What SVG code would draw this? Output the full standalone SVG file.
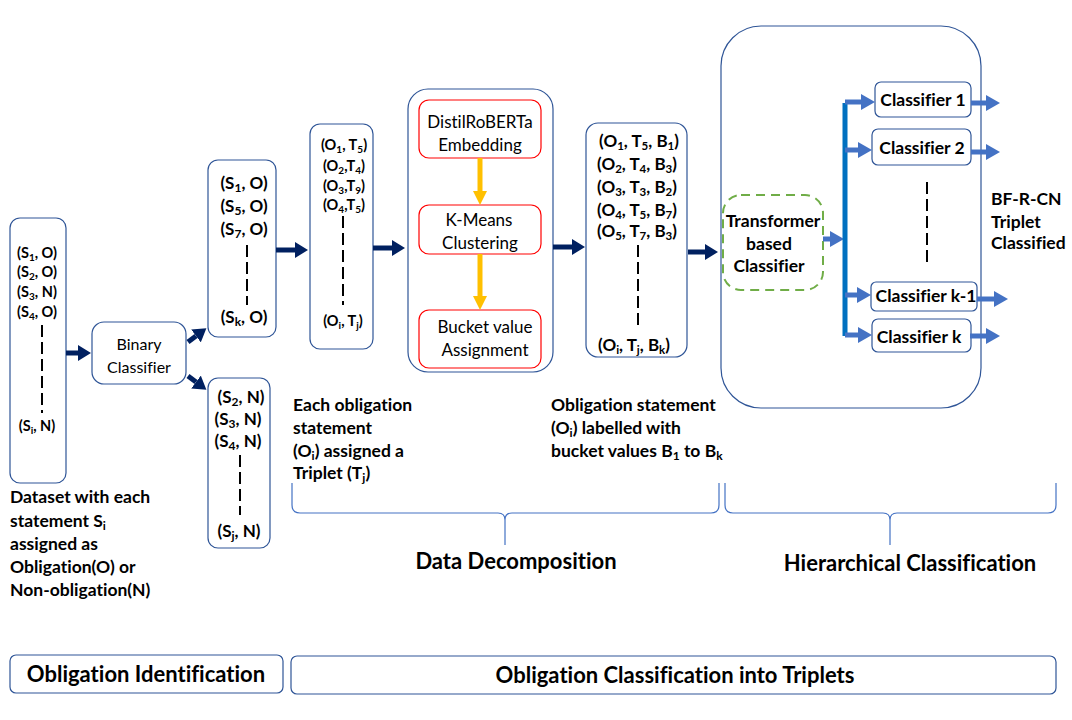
<svg xmlns="http://www.w3.org/2000/svg" width="1072" height="720" viewBox="0 0 1072 720">
<style>
.box{fill:#fff;stroke:#2F5597;stroke-width:1.2}
.red{fill:#fff;stroke:#FF0000;stroke-width:1.2}
.t{font-family:Lato,"Open Sans","Liberation Sans",sans-serif;fill:#000;font-variant-ligatures:none;font-feature-settings:"liga" 0,"dlig" 0}
.b{font-weight:bold}
.dash{stroke:#000;stroke-width:2;stroke-dasharray:12 5}
.nav{stroke:#002060;stroke-width:5;fill:none}
.blu{stroke:#4472C4;stroke-width:5;fill:none}
.org{stroke:#FFC000;stroke-width:5;fill:none}
.brace{stroke:#4472C4;stroke-width:1.2;fill:none}
</style>
<defs>
<marker id="hn" markerUnits="userSpaceOnUse" markerWidth="13" markerHeight="16" viewBox="0 0 13 16" refX="0" refY="8" orient="auto"><path d="M0,0 L13,8 L0,16 z" fill="#002060"/></marker>
<marker id="hb" markerUnits="userSpaceOnUse" markerWidth="14" markerHeight="16" viewBox="0 0 14 16" refX="0" refY="8" orient="auto"><path d="M0,0 L14,8 L0,16 z" fill="#4472C4"/></marker>
<marker id="ho" markerUnits="userSpaceOnUse" markerWidth="16" markerHeight="14" viewBox="0 0 16 14" refX="0" refY="7" orient="auto"><path d="M0,0 L14,7 L0,14 z" fill="#FFC000"/></marker>
</defs>

<g id="hier-container"><rect class="box" x="721" y="26" width="260" height="382" rx="40"/></g>
<g id="decomp-container"><rect class="box" x="408" y="89" width="145" height="283" rx="20"/></g>

<g id="dataset">
<rect class="box" x="10" y="218" width="56" height="265" rx="10"/>
<g class="t b" font-size="14.5" text-anchor="middle">
<text x="37" y="258">(S<tspan font-size="10" dy="3">1</tspan><tspan dy="-3">, O)</tspan></text>
<text x="37" y="277">(S<tspan font-size="10" dy="3">2</tspan><tspan dy="-3">, O)</tspan></text>
<text x="37" y="297">(S<tspan font-size="10" dy="3">3</tspan><tspan dy="-3">, N)</tspan></text>
<text x="37" y="317">(S<tspan font-size="10" dy="3">4</tspan><tspan dy="-3">, O)</tspan></text>
<text x="37" y="431">(S<tspan font-size="10" dy="3">i</tspan><tspan dy="-3">,  N)</tspan></text>
</g>
<line class="dash" x1="42" y1="325" x2="42" y2="413"/>
</g>

<g id="binary-classifier">
<rect class="box" x="92" y="322" width="94" height="62" rx="12"/>
<text class="t" font-size="16" text-anchor="middle" x="139" y="350">Binary</text>
<text class="t" font-size="16" text-anchor="middle" x="139" y="373">Classifier</text>
</g>

<g id="obligations">
<rect class="box" x="208" y="160" width="68" height="177" rx="10"/>
<g class="t b" font-size="17" text-anchor="middle">
<text x="244" y="189">(S<tspan font-size="12" dy="3">1</tspan><tspan dy="-3">, O)</tspan></text>
<text x="244" y="212">(S<tspan font-size="12" dy="3">5</tspan><tspan dy="-3">, O)</tspan></text>
<text x="244" y="235">(S<tspan font-size="12" dy="3">7</tspan><tspan dy="-3">, O)</tspan></text>
<text x="244" y="323">(S<tspan font-size="12" dy="3">k</tspan><tspan dy="-3">, O)</tspan></text>
</g>
<line class="dash" x1="247" y1="245" x2="247" y2="305"/>
</g>

<g id="non-obligations">
<rect class="box" x="208" y="378" width="62" height="170" rx="10"/>
<g class="t b" font-size="17" text-anchor="middle">
<text x="241" y="403">(S<tspan font-size="12" dy="3">2</tspan><tspan dy="-3">, N)</tspan></text>
<text x="238" y="425">(S<tspan font-size="12" dy="3">3</tspan><tspan dy="-3">, N)</tspan></text>
<text x="238" y="447">(S<tspan font-size="12" dy="3">4</tspan><tspan dy="-3">, N)</tspan></text>
<text x="239" y="537">(S<tspan font-size="12" dy="3">j</tspan><tspan dy="-3">, N)</tspan></text>
</g>
<line class="dash" x1="240" y1="455" x2="240" y2="515"/>
</g>

<g id="triplets">
<rect class="box" x="310" y="124" width="63" height="225" rx="10"/>
<g class="t b" font-size="14.5" text-anchor="middle">
<text x="344" y="150">(O<tspan font-size="10" dy="3">1</tspan><tspan dy="-3">, T</tspan><tspan font-size="10" dy="3">5</tspan><tspan dy="-3">)</tspan></text>
<text x="344" y="171">(O<tspan font-size="10" dy="3">2</tspan><tspan dy="-3">,T</tspan><tspan font-size="10" dy="3">4</tspan><tspan dy="-3">)</tspan></text>
<text x="344" y="191">(O<tspan font-size="10" dy="3">3</tspan><tspan dy="-3">,T</tspan><tspan font-size="10" dy="3">9</tspan><tspan dy="-3">)</tspan></text>
<text x="344" y="210">(O<tspan font-size="10" dy="3">4</tspan><tspan dy="-3">,T</tspan><tspan font-size="10" dy="3">5</tspan><tspan dy="-3">)</tspan></text>
<text x="343" y="326">(O<tspan font-size="10" dy="3">i</tspan><tspan dy="-3">, T</tspan><tspan font-size="10" dy="3">j</tspan><tspan dy="-3">)</tspan></text>
</g>
<line class="dash" x1="343" y1="216" x2="343" y2="305"/>
</g>

<g id="distilroberta">
<rect class="red" x="419" y="100" width="122" height="58" rx="10"/>
<text class="t" font-size="17" text-anchor="middle" x="480" y="128">DistilRoBERTa</text>
<text class="t" font-size="17" text-anchor="middle" x="480" y="151">Embedding</text>
</g>
<g id="kmeans">
<rect class="red" x="419" y="205" width="122" height="49" rx="10"/>
<text class="t" font-size="17" text-anchor="middle" x="479" y="226">K-Means</text>
<text class="t" font-size="17" text-anchor="middle" x="480" y="249">Clustering</text>
</g>
<g id="bucket">
<rect class="red" x="419" y="310" width="122" height="58" rx="10"/>
<text class="t" font-size="17" text-anchor="middle" x="485" y="333">Bucket value</text>
<text class="t" font-size="17" text-anchor="middle" x="485" y="356">Assignment</text>
</g>

<g id="buckets">
<rect class="box" x="586" y="123" width="101" height="234" rx="12"/>
<g class="t b" font-size="17" text-anchor="middle">
<text x="639" y="147">(O<tspan font-size="11.5" dy="3">1</tspan><tspan dy="-3">, T</tspan><tspan font-size="11.5" dy="3">5</tspan><tspan dy="-3">, B</tspan><tspan font-size="11.5" dy="3">1</tspan><tspan dy="-3">)</tspan></text>
<text x="637" y="170">(O<tspan font-size="11.5" dy="3">2</tspan><tspan dy="-3">, T</tspan><tspan font-size="11.5" dy="3">4</tspan><tspan dy="-3">, B</tspan><tspan font-size="11.5" dy="3">3</tspan><tspan dy="-3">)</tspan></text>
<text x="637" y="193">(O<tspan font-size="11.5" dy="3">3</tspan><tspan dy="-3">, T</tspan><tspan font-size="11.5" dy="3">3</tspan><tspan dy="-3">, B</tspan><tspan font-size="11.5" dy="3">2</tspan><tspan dy="-3">)</tspan></text>
<text x="637" y="216">(O<tspan font-size="11.5" dy="3">4</tspan><tspan dy="-3">, T</tspan><tspan font-size="11.5" dy="3">5</tspan><tspan dy="-3">, B</tspan><tspan font-size="11.5" dy="3">7</tspan><tspan dy="-3">)</tspan></text>
<text x="637" y="237">(O<tspan font-size="11.5" dy="3">5</tspan><tspan dy="-3">, T</tspan><tspan font-size="11.5" dy="3">7</tspan><tspan dy="-3">, B</tspan><tspan font-size="11.5" dy="3">3</tspan><tspan dy="-3">)</tspan></text>
<text x="634" y="351">(O<tspan font-size="11.5" dy="3">i</tspan><tspan dy="-3">, T</tspan><tspan font-size="11.5" dy="3">j</tspan><tspan dy="-3">, B</tspan><tspan font-size="11.5" dy="3">k</tspan><tspan dy="-3">)</tspan></text>
</g>
<line class="dash" x1="638" y1="245" x2="638" y2="330"/>
</g>

<g id="transformer">
<rect x="723" y="195" width="100" height="95" rx="18" fill="#fff" stroke="#70AD47" stroke-width="2" stroke-dasharray="9 6"/>
<g class="t b" font-size="17.5" text-anchor="middle">
<text x="773" y="227">Transformer</text>
<text x="769" y="250">based</text>
<text x="769" y="272">Classifier</text>
</g>
</g>

<g id="classifier-1"><rect class="box" x="875" y="82" width="96" height="35" rx="6"/><text class="t b" font-size="17.5" text-anchor="middle" x="923" y="106">Classifier 1</text></g>
<g id="classifier-2"><rect class="box" x="872" y="129" width="99" height="36" rx="6"/><text class="t b" font-size="17.5" text-anchor="middle" x="922" y="154">Classifier 2</text></g>
<g id="classifier-k-1"><rect class="box" x="871" y="282" width="106" height="29" rx="5"/><text class="t b" font-size="17.5" text-anchor="middle" x="926" y="302">Classifier k-1</text></g>
<g id="classifier-k"><rect class="box" x="872" y="319" width="99" height="33" rx="6"/><text class="t b" font-size="17.5" text-anchor="middle" x="919" y="343">Classifier k</text></g>
<line class="dash" x1="927" y1="182" x2="927" y2="265"/>

<g id="connectors">
<line class="nav" x1="66" y1="353" x2="78" y2="353" marker-end="url(#hn)"/>
<line class="nav" x1="188" y1="342" x2="196" y2="336" marker-end="url(#hn)"/>
<line class="nav" x1="188" y1="376" x2="196" y2="382" marker-end="url(#hn)"/>
<line class="nav" x1="276" y1="250" x2="295" y2="250" marker-end="url(#hn)"/>
<line class="nav" x1="373" y1="248" x2="392" y2="248" marker-end="url(#hn)"/>
<line class="nav" x1="553" y1="247" x2="572" y2="247" marker-end="url(#hn)"/>
<line class="nav" x1="688" y1="252" x2="705" y2="252" marker-end="url(#hn)"/>
<line class="org" x1="480" y1="158" x2="480" y2="191" marker-end="url(#ho)"/>
<line class="org" x1="480" y1="254" x2="480" y2="296" marker-end="url(#ho)"/>
<line class="blu" x1="823" y1="239" x2="830" y2="239" marker-end="url(#hb)"/>
<line x1="845" y1="103" x2="845" y2="336" stroke="#0070C0" stroke-width="5"/>
<line class="blu" x1="845" y1="102" x2="861" y2="102" marker-end="url(#hb)"/>
<line class="blu" x1="845" y1="150" x2="858" y2="150" marker-end="url(#hb)"/>
<line class="blu" x1="845" y1="295" x2="857" y2="295" marker-end="url(#hb)"/>
<line class="blu" x1="845" y1="335" x2="858" y2="335" marker-end="url(#hb)"/>
<line class="blu" x1="971" y1="103" x2="986" y2="103" marker-end="url(#hb)"/>
<line class="blu" x1="971" y1="152" x2="986" y2="152" marker-end="url(#hb)"/>
<line class="blu" x1="977" y1="299" x2="994" y2="299" marker-end="url(#hb)"/>
<line class="blu" x1="970" y1="336" x2="986" y2="336" marker-end="url(#hb)"/>
</g>

<g class="t b" font-size="17.5">
<text x="991" y="205">BF-R-CN</text>
<text x="991" y="228">Triplet</text>
<text x="991" y="249">Classified</text>
</g>

<g id="label-triplet" class="t b" font-size="17.5">
<text x="293" y="411">Each obligation</text>
<text x="293" y="434">statement</text>
<text x="293" y="457">(O<tspan font-size="12" dy="3">i</tspan><tspan dy="-3">) assigned a</tspan></text>
<text x="293" y="479">Triplet (T<tspan font-size="12" dy="3">j</tspan><tspan dy="-3">)</tspan></text>
</g>
<g id="label-bucket" class="t b" font-size="17.5">
<text x="551" y="411">Obligation statement</text>
<text x="551" y="434">(O<tspan font-size="12" dy="3">i</tspan><tspan dy="-3">) labelled with</tspan></text>
<text x="551" y="457">bucket values B<tspan font-size="12" dy="3">1</tspan><tspan dy="-3"> to B</tspan><tspan font-size="12" dy="3">k</tspan></text>
</g>
<g id="label-dataset" class="t b" font-size="17.5">
<text x="10" y="503">Dataset with each</text>
<text x="10" y="527">statement S<tspan font-size="12" dy="3">i</tspan></text>
<text x="10" y="550">assigned as</text>
<text x="10" y="573">Obligation(O) or</text>
<text x="10" y="596">Non-obligation(N)</text>
</g>

<g id="brace-decomposition">
<path class="brace" d="M292,483 L292,505 Q292,513 300,513 L498,513 Q505,513 505,520 L505,545 M505,545 L505,520 Q505,513 512,513 L711,513 Q719,513 719,505 L719,483"/>
<text class="t b" font-size="22" text-anchor="middle" x="516" y="569">Data Decomposition</text>
</g>
<g id="brace-hierarchical">
<path class="brace" d="M725,483 L725,505 Q725,513 733,513 L883,513 Q890,513 890,520 L890,545 M890,545 L890,520 Q890,513 897,513 L1048,513 Q1056,513 1056,505 L1056,483"/>
<text class="t b" font-size="22" text-anchor="middle" x="910" y="571">Hierarchical Classification</text>
</g>

<g id="obligation-identification">
<rect class="box" x="10" y="655" width="273" height="38" rx="6"/>
<text class="t b" font-size="22" text-anchor="middle" x="146" y="682">Obligation Identification</text>
</g>
<g id="obligation-classification">
<rect class="box" x="291" y="656" width="765" height="38" rx="6"/>
<text class="t b" font-size="22" text-anchor="middle" x="675" y="683">Obligation Classification into Triplets</text>
</g>
</svg>
